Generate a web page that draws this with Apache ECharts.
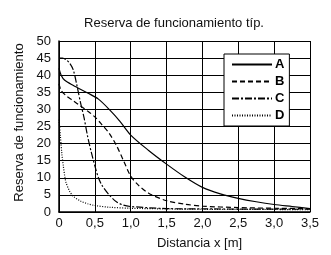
<!DOCTYPE html>
<html>
<head>
<meta charset="utf-8">
<script src="https://cdn.jsdelivr.net/npm/echarts@6/dist/echarts.min.js"></script>
<style>
  html, body { margin: 0; padding: 0; background: #fff; }
  #main { width: 331px; height: 255px; }
</style>
</head>
<body>
<div id="main"></div>
<script>
// datos
const xTicks = ['0', '0,5', '1,0', '1,5', '2,0', '2,5', '3,0', '3,5'];

const xA = [0, 0.03, 0.08, 0.2, 0.4, 0.55, 0.7, 0.85, 1.0, 1.25, 1.5, 1.75, 2.0, 2.25, 2.5, 2.75, 3.0, 3.25, 3.5];
const yA = [42, 40, 38.5, 37, 34.8, 33, 30, 26.5, 22.5, 18, 14, 10.3, 7.2, 5.3, 4, 3, 2.2, 1.6, 1];

const xB = [0, 0.03, 0.1, 0.2, 0.3, 0.4, 0.5, 0.6, 0.7, 0.8, 0.9, 1.0, 1.1, 1.25, 1.5, 1.75, 2.0, 2.5, 3.0, 3.5];
const yB = [37.5, 35.5, 34, 32.5, 31, 29.5, 27.8, 25.5, 23, 19.5, 15, 10.5, 8, 5.5, 3.3, 2.3, 1.7, 1.3, 1.1, 1];

const xC = [0, 0.05, 0.1, 0.15, 0.2, 0.25, 0.3, 0.35, 0.4, 0.45, 0.5, 0.55, 0.6, 0.7, 0.8, 0.9, 1.0, 1.5, 2.0, 3.5];
const yC = [45, 45, 44.5, 43.5, 41.5, 37, 32, 27.5, 22, 17.5, 13.5, 10, 7.8, 5, 3, 2, 1.6, 1, 0.9, 0.8];

const xD = [0, 0.02, 0.04, 0.06, 0.08, 0.1, 0.15, 0.2, 0.3, 0.4, 0.5, 0.7, 1.0, 1.5, 2.0, 3.5];
const yD = [27, 22, 17, 13.5, 10.5, 8.5, 6, 4.6, 3.2, 2.4, 1.9, 1.4, 1.1, 0.9, 0.8, 0.7];

function zip(xs, ys) {
  return xs.map((x, i) => [x, ys[i]]);
}

const font = '"Liberation Sans Narrow", "Liberation Sans", Arial, sans-serif';

var chart = echarts.init(document.getElementById('main'));

function serie(name, xs, ys, type) {
  return {
    name: name,
    type: 'line',
    data: zip(xs, ys),
    symbol: 'none',
    smooth: 0.3,
    lineStyle: { color: '#000', width: 1.2, type: type },
    itemStyle: { color: '#000' }
  };
}

chart.setOption({
  animation: false,
  title: {
    text: 'Reserva de funcionamiento típ.',
    left: 169, top: 12, textAlign: 'center',
    textStyle: { fontFamily: font, fontSize: 13, fontWeight: 'normal', color: '#111' }
  },
  legend: {
    orient: 'vertical',
    left: 224, top: 54,
    padding: [4, 5, 4, 7],
    itemGap: 4,
    itemWidth: 40, itemHeight: 10,
    borderColor: '#000', borderWidth: 1,
    backgroundColor: '#fff',
    itemStyle: { color: 'transparent', borderWidth: 0 },
    textStyle: {
      fontFamily: font, fontSize: 13, fontWeight: 'bold', color: '#000',
      lineHeight: 10, padding: [0, 0, 0, -2]
    },
    data: ['A', 'B', 'C', 'D']
  },
  grid: { left: 59, right: 21, top: 41, bottom: 38 },
  xAxis: {
    type: 'value', min: 0, max: 3.5, interval: 0.5,
    name: 'Distancia x [m]', nameLocation: 'middle', nameGap: 25,
    nameTextStyle: { fontFamily: font, fontSize: 13, color: '#111', padding: [0, 0, 0, 30] },
    axisLine: { lineStyle: { color: '#000', width: 1.5 } },
    axisTick: { show: false },
    axisLabel: {
      fontFamily: font, fontSize: 13, color: '#111', margin: 5,
      formatter: (v) => xTicks[Math.round(v / 0.5)]
    },
    splitLine: { lineStyle: { color: '#000', width: 1 } }
  },
  yAxis: {
    type: 'value', min: 0, max: 50, interval: 5,
    name: 'Reserva de funcionamiento', nameLocation: 'middle', nameGap: 33,
    nameTextStyle: { fontFamily: font, fontSize: 13, color: '#111', padding: [0, 0, 0, 8] },
    axisLine: { show: true, lineStyle: { color: '#000', width: 1.5 } },
    axisTick: { show: false },
    axisLabel: { fontFamily: font, fontSize: 13, color: '#111', margin: 8 },
    splitLine: { lineStyle: { color: '#000', width: 1 } }
  },
  series: [
    serie('A', xA, yA, 'solid'),
    serie('B', xB, yB, [5, 3]),
    serie('C', xC, yC, [7, 2, 2, 2]),
    serie('D', xD, yD, [1, 1.5])
  ]
});
</script>
</body>
</html>
